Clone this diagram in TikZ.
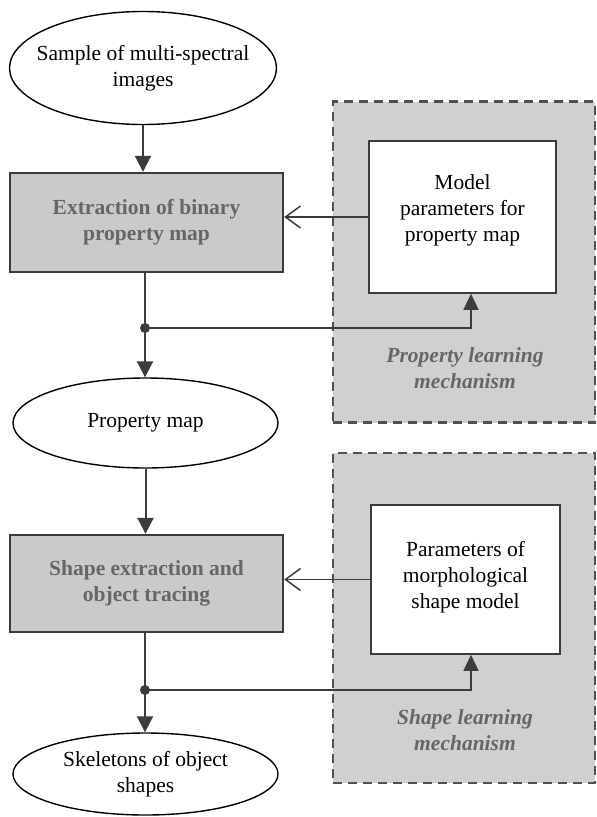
\documentclass[tikz,border=0pt]{standalone}
\usepackage{fontspec}
\setmainfont{Liberation Serif}
\usetikzlibrary{shapes.geometric,arrows.meta}
\definecolor{linec}{HTML}{3C3C3C}
\definecolor{boxfill}{HTML}{CACACA}
\definecolor{panelfill}{HTML}{D0D0D0}
\definecolor{boldtxt}{HTML}{666666}
\tikzset{
  txt/.style={font=\fontsize{21.5}{26}\selectfont, align=center, text=black},
  boldt/.style={font=\fontsize{21.5}{26}\selectfont\bfseries, align=center, text=boldtxt},
  itt/.style={font=\fontsize{21.5}{26}\selectfont\bfseries\itshape, align=center, text=boldtxt},
  ell/.style={ellipse, draw=black, line width=1.4pt, inner sep=0pt},
  procbox/.style={rectangle, draw=linec, fill=boxfill, line width=2.4pt, inner sep=0pt},
  parbox/.style={rectangle, draw=linec, fill=white, line width=1.6pt, inner sep=0pt},
  panel/.style={rectangle, draw=linec!90, fill=panelfill, line width=2.2pt, dash pattern=on 9pt off 6pt, inner sep=0pt},
  mainarrow/.style={draw=linec, line width=2pt, -{Triangle[length=16pt,width=16pt]}},
  feedarrow/.style={draw=linec, line width=1.5pt, -{Triangle[length=16pt,width=15pt]}},
  paramarrow/.style={draw=linec, line width=1.4pt, -{Straight Barb[length=15pt,width=22pt,line width=1.5pt]}},
  dot/.style={circle, fill=linec, inner sep=0pt, minimum size=10pt}
}
\begin{document}
\begin{tikzpicture}[x=1pt,y=-1pt]
\useasboundingbox (0,0) rectangle (597,817);
% panels
\node[panel, minimum width=262pt, minimum height=321pt] (p1) at (464,262) {};
\node[panel, minimum width=262pt, minimum height=330pt] (p2) at (464,618) {};
% left column
\node[ell, minimum width=267pt, minimum height=113pt] (e1) at (143,68) {};
\node[txt] (e1t) at (e1) {Sample of multi-spectral\\images};
\node[procbox, minimum width=273pt, minimum height=99pt] (b1) at (146.5,222.5) {};
\node[boldt] (b1t) at (b1) {Extraction of binary\\property map};
\node[ell, minimum width=265pt, minimum height=90pt] (e2) at (145.5,423) {};
\node[txt] (e2t) at (e2) {Property map};
\node[procbox, minimum width=273pt, minimum height=97pt] (b2) at (146.5,583.5) {};
\node[boldt] (b2t) at (b2) {Shape extraction and\\object tracing};
\node[ell, minimum width=265pt, minimum height=82pt] (e3) at (145.5,774) {};
\node[txt] (e3t) at (e3) {Skeletons of object\\shapes};
% parameter boxes
\node[parbox, minimum width=187pt, minimum height=152pt] (m1) at (462.5,217) {};
\node[txt] (m1t) at (462.5,210) {Model\\parameters for\\property map};
\node[parbox, minimum width=189pt, minimum height=149pt] (m2) at (465.5,579.5) {};
\node[txt] (m2t) at (465.5,577) {Parameters of\\morphological\\shape model};
% panel captions
\node[itt] (c1) at (465,368) {Property learning\\mechanism};
\node[itt] (c2) at (465,730) {Shape learning\\mechanism};
% dots and corners
\node[dot] (d1) at (145,328) {};
\node[dot] (d2) at (145,690) {};
\coordinate (k1) at (471,328);
\coordinate (k2) at (471,690);
% connectors
\draw[mainarrow] (e1.south) -- (e1.south |- b1.north);
\draw[draw=linec, line width=2pt] (b1.south -| d1) -- (d1.center);
\draw[mainarrow] (d1.center) -- (d1 |- e2.north);
\draw[mainarrow] (e2.south) -- (e2.south |- b2.north);
\draw[draw=linec, line width=2pt] (b2.south -| d2) -- (d2.center);
\draw[mainarrow] (d2.center) -- (d2 |- e3.north);
\draw[feedarrow] (d1.center) -- (k1) -- (k1 |- m1.south);
\draw[feedarrow] (d2.center) -- (k2) -- (k2 |- m2.south);
\draw[paramarrow] (m1.west) -- (m1.west -| b1.east);
\draw[paramarrow] (m2.west) -- (m2.west -| b2.east);
\end{tikzpicture}
\end{document}
